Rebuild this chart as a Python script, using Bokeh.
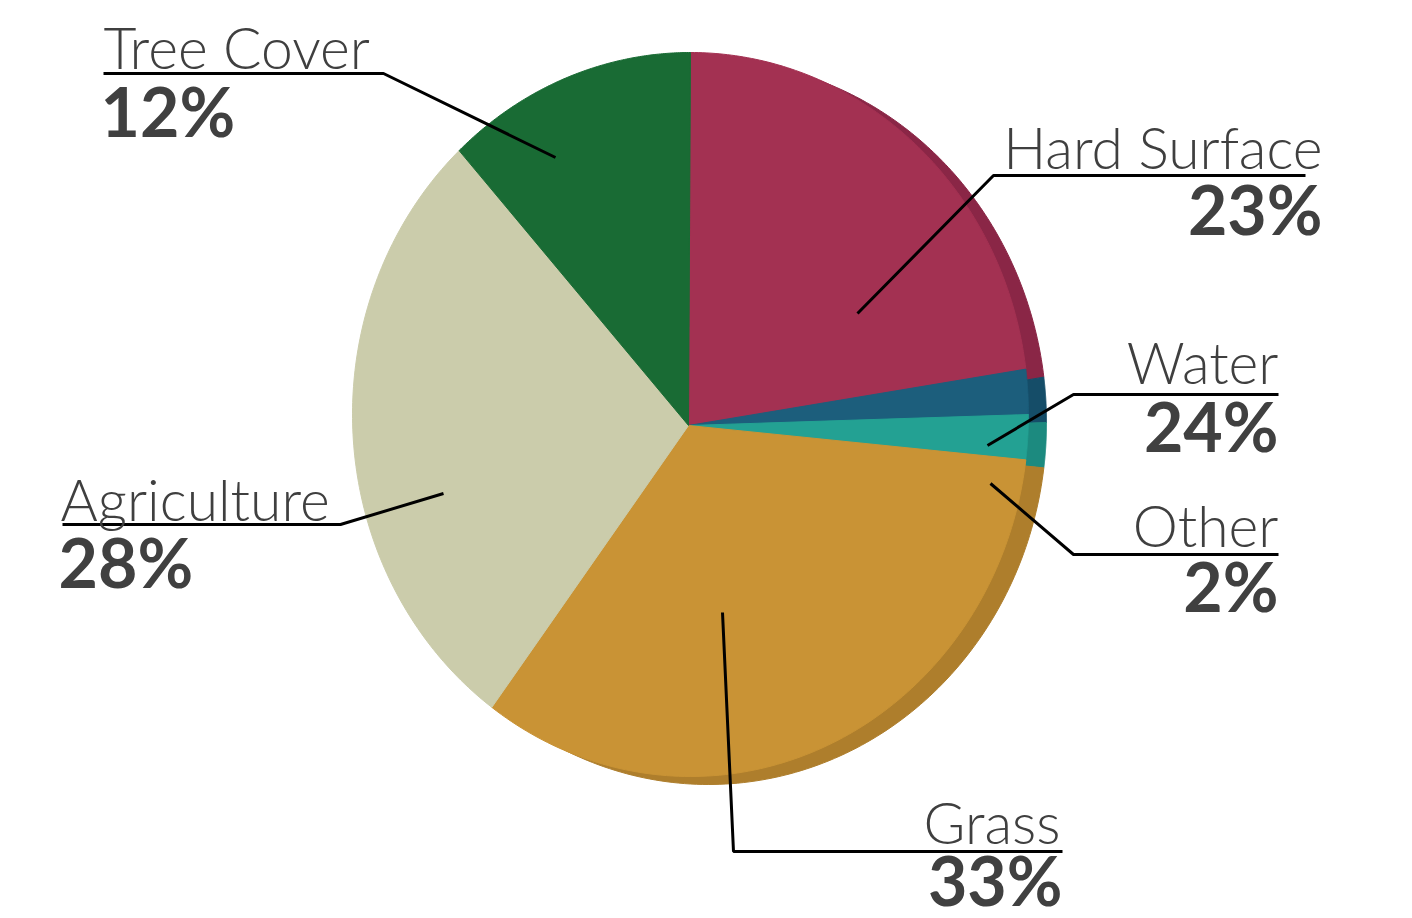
import numpy as np
from bokeh.plotting import figure
from bokeh.models import Range1d
from bokeh.core.properties import value
from bokeh.embed import file_html
from bokeh.resources import INLINE

# ---- data ----
categories = ["Hard Surface", "Water", "Other", "Grass", "Agriculture", "Tree Cover"]
shares = [23, 2, 2, 33, 28, 12]
pct_labels = ["23%", "24%", "2%", "33%", "28%", "12%"]
face_colors = ["#A33152", "#1C5E7C", "#23A193", "#C99335", "#CBCCAB", "#196B34"]
rim_colors = ["#8A2646", "#154D68", "#1C8A7F", "#AE7E2C", "#B9BA97", "#135A2A"]

W, H = 1412, 918


def X(px):
    return px


def Y(py):
    return H - py


p = figure(width=W, height=H, output_backend="svg", toolbar_location=None,
           x_range=Range1d(0, W), y_range=Range1d(0, H), min_border=0)
p.axis.visible = False
p.grid.visible = False
p.outline_line_color = None
p.background_fill_color = "white"

# pie geometry (image pixel space)
vx, vy = 688, 425                     # vertex
cx, cy, rx, ry = 690, 414, 338, 362   # face ellipse
ox, oy = 18, 8                        # rim offset

frac = np.array(shares, dtype=float) / sum(shares)
ends = np.pi / 2 - 2 * np.pi * np.cumsum(frac)
starts = np.concatenate([[np.pi / 2], ends[:-1]])


def slice_poly(a0, a1, dx, dy):
    t = np.linspace(a0, a1, 120)
    xs = [vx + dx] + list(cx + dx + rx * np.cos(t))
    ys = [vy + dy] + list(cy + dy - ry * np.sin(t))
    return [X(x) for x in xs], [Y(y) for y in ys]


rim_xs, rim_ys, face_xs, face_ys = [], [], [], []
for a0, a1 in zip(starts, ends):
    xr, yr = slice_poly(a0, a1, ox, oy)
    rim_xs.append(xr); rim_ys.append(yr)
    xf, yf = slice_poly(a0, a1, 0, 0)
    face_xs.append(xf); face_ys.append(yf)

p.patches(rim_xs, rim_ys, fill_color=rim_colors, line_color=rim_colors, line_width=1)
p.patches(face_xs, face_ys, fill_color=face_colors, line_color=face_colors, line_width=1)

# ---- labels (layout in image pixels; y = baseline) ----
name_pos = [(1322, 170, "right"), (1278, 385, "right"), (1278, 548, "right"),
            (1060, 845, "right"), (60, 522, "left"), (103, 70, "left")]
pct_pos = [(1322, 235, "right"), (1278, 452, "right"), (1278, 612, "right"),
           (1062, 906, "right"), (58, 588, "left"), (100, 137, "left")]
leaders = [
    [(1305, 175), (993, 175), (857, 313)],
    [(1278, 394), (1073, 394), (987, 445)],
    [(1278, 554), (1073, 554), (990, 483)],
    [(1062, 851), (733, 851), (722, 612)],
    [(62, 524), (340, 524), (443, 493)],
    [(103, 73), (383, 73), (555, 157)],
]
name_dy, pct_dy = 24, 27   # baseline compensation for the svg text renderer

for pts in leaders:
    p.line([X(a) for a, b in pts], [Y(b) for a, b in pts], line_color="black",
           line_width=3)

for name, pct, (nx, ny, na), (qx, qy, qa) in zip(categories, pct_labels, name_pos, pct_pos):
    p.text(x=[X(nx)], y=[Y(ny - name_dy)], text=[name], text_align=na,
           text_baseline="alphabetic",
           text_font=value("Lato Light, Lato, sans-serif"), text_font_size="57px",
           text_color="#3F3F3F")
    p.text(x=[X(qx)], y=[Y(qy - pct_dy)], text=[pct], text_align=qa,
           text_baseline="alphabetic",
           text_font=value("Lato"), text_font_style="bold", text_font_size="68px",
           text_color="#404040")

open("out.html", "w").write(file_html(p, INLINE))
